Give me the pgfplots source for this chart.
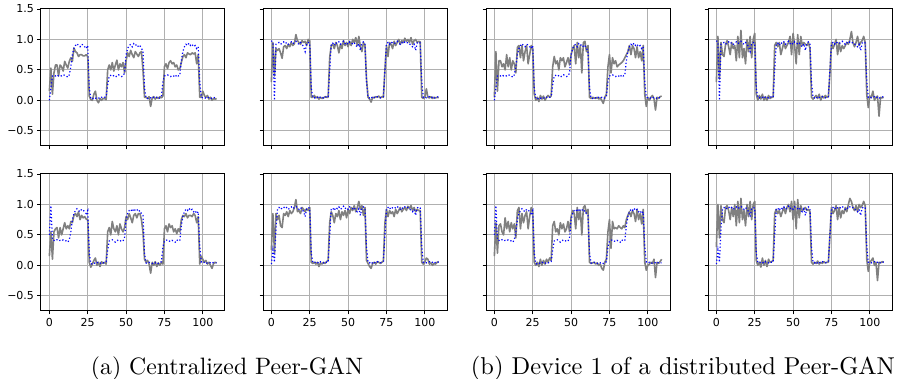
\documentclass[border=0pt]{standalone}
\usepackage{graphicx}
\usepackage{fontspec}
\usepackage{pgfplots}
\usepackage{pgfplotstable}
\pgfplotsset{compat=1.18}
\newfontfamily\tickfont{DejaVu Sans}
\definecolor{gridgray}{RGB}{176,176,176}
\definecolor{genGray}{RGB}{128,128,128}

% real signals
\pgfplotstableread[header=false,row sep=\\]{
0.00\\0.20\\0.40\\0.41\\0.40\\0.42\\0.40\\0.41\\0.40\\0.42\\
0.41\\0.40\\0.38\\0.42\\0.55\\0.75\\0.85\\0.90\\0.93\\0.90\\
0.88\\0.92\\0.91\\0.88\\0.85\\0.90\\0.20\\0.03\\0.02\\0.04\\
0.03\\0.05\\0.04\\0.03\\0.05\\0.04\\0.05\\0.06\\0.25\\0.40\\
0.41\\0.42\\0.40\\0.38\\0.40\\0.42\\0.41\\0.39\\0.40\\0.45\\
0.75\\0.85\\0.90\\0.92\\0.88\\0.93\\0.90\\0.92\\0.88\\0.90\\
0.85\\0.82\\0.20\\0.04\\0.03\\0.05\\0.04\\0.03\\0.05\\0.04\\
0.05\\0.03\\0.04\\0.06\\0.30\\0.40\\0.41\\0.42\\0.40\\0.39\\
0.41\\0.40\\0.38\\0.42\\0.40\\0.41\\0.65\\0.80\\0.88\\0.92\\
0.90\\0.94\\0.90\\0.92\\0.88\\0.90\\0.85\\0.88\\0.30\\0.05\\
0.04\\0.05\\0.03\\0.04\\0.05\\0.04\\0.03\\0.05\\0.04\\0.04\\
}\rAa
\pgfplotstableread[header=false,row sep=\\]{
0.50\\0.98\\0.42\\0.41\\0.40\\0.42\\0.40\\0.41\\0.40\\0.42\\
0.41\\0.40\\0.38\\0.42\\0.55\\0.75\\0.85\\0.90\\0.93\\0.90\\
0.88\\0.92\\0.91\\0.88\\0.85\\0.90\\0.20\\0.03\\0.02\\0.04\\
0.03\\0.05\\0.04\\0.03\\0.05\\0.04\\0.05\\0.06\\0.25\\0.40\\
0.41\\0.42\\0.40\\0.38\\0.40\\0.42\\0.41\\0.39\\0.40\\0.45\\
0.75\\0.85\\0.90\\0.92\\0.88\\0.93\\0.90\\0.92\\0.88\\0.90\\
0.85\\0.82\\0.20\\0.04\\0.03\\0.05\\0.04\\0.03\\0.05\\0.04\\
0.05\\0.03\\0.04\\0.06\\0.30\\0.40\\0.41\\0.42\\0.40\\0.39\\
0.41\\0.40\\0.38\\0.42\\0.40\\0.41\\0.65\\0.80\\0.88\\0.92\\
0.90\\0.94\\0.90\\0.92\\0.88\\0.90\\0.85\\0.88\\0.30\\0.05\\
0.04\\0.05\\0.03\\0.04\\0.05\\0.04\\0.03\\0.05\\0.04\\0.04\\
}\rAb
\pgfplotstableread[header=false,row sep=\\]{
0.98\\0.95\\0.00\\0.92\\0.93\\0.95\\0.92\\0.94\\0.96\\0.93\\
0.95\\0.92\\0.94\\0.96\\0.93\\0.95\\0.97\\0.94\\0.92\\0.95\\
0.92\\0.88\\0.80\\0.93\\0.95\\0.94\\0.20\\0.05\\0.04\\0.06\\
0.05\\0.03\\0.06\\0.05\\0.04\\0.06\\0.05\\0.05\\0.50\\0.92\\
0.94\\0.90\\0.95\\0.93\\0.96\\0.92\\0.94\\0.97\\0.93\\0.95\\
0.92\\0.96\\0.94\\0.93\\0.95\\0.90\\0.88\\0.93\\0.82\\0.94\\
0.96\\0.93\\0.30\\0.05\\0.04\\0.06\\0.03\\0.05\\0.04\\0.06\\
0.05\\0.04\\0.05\\0.06\\0.50\\0.93\\0.95\\0.92\\0.96\\0.94\\
0.93\\0.95\\0.97\\0.94\\0.92\\0.95\\0.93\\0.96\\0.94\\0.95\\
0.93\\0.90\\0.88\\0.92\\0.82\\0.94\\0.96\\0.94\\0.30\\0.05\\
0.06\\0.04\\0.05\\0.06\\0.04\\0.05\\0.03\\0.05\\0.06\\0.05\\
}\rBa
\pgfplotstableread[header=false,row sep=\\]{
0.02\\0.25\\0.05\\0.60\\0.93\\0.95\\0.92\\0.94\\0.96\\0.93\\
0.95\\0.92\\0.94\\0.96\\0.93\\0.95\\0.97\\0.94\\0.92\\0.95\\
0.92\\0.88\\0.80\\0.93\\0.95\\0.94\\0.20\\0.05\\0.04\\0.06\\
0.05\\0.03\\0.06\\0.05\\0.04\\0.06\\0.05\\0.05\\0.50\\0.92\\
0.94\\0.90\\0.95\\0.93\\0.96\\0.92\\0.94\\0.97\\0.93\\0.95\\
0.92\\0.96\\0.94\\0.93\\0.95\\0.90\\0.88\\0.93\\0.82\\0.94\\
0.96\\0.93\\0.30\\0.05\\0.04\\0.06\\0.03\\0.05\\0.04\\0.06\\
0.05\\0.04\\0.05\\0.06\\0.50\\0.93\\0.95\\0.92\\0.96\\0.94\\
0.93\\0.95\\0.97\\0.94\\0.92\\0.95\\0.93\\0.96\\0.94\\0.95\\
0.93\\0.90\\0.88\\0.92\\0.82\\0.94\\0.96\\0.94\\0.30\\0.05\\
0.06\\0.04\\0.05\\0.06\\0.04\\0.05\\0.03\\0.05\\0.06\\0.05\\
}\rBb

% generated signals
\pgfplotstableread[header=false,row sep=\\]{
0.15\\0.53\\0.10\\0.45\\0.58\\0.58\\0.40\\0.58\\0.55\\0.48\\
0.64\\0.58\\0.53\\0.64\\0.70\\0.64\\0.86\\0.80\\0.78\\0.72\\
0.75\\0.75\\0.73\\0.73\\0.75\\0.72\\0.07\\0.01\\0.00\\0.10\\
0.15\\0.00\\-0.04\\0.03\\0.00\\0.03\\0.03\\0.01\\0.50\\0.58\\
0.50\\0.62\\0.48\\0.58\\0.66\\0.50\\0.60\\0.55\\0.62\\0.45\\
0.65\\0.78\\0.72\\0.82\\0.75\\0.70\\0.80\\0.76\\0.72\\0.78\\
0.80\\0.50\\0.05\\0.05\\0.03\\0.06\\-0.10\\0.04\\0.06\\0.02\\
0.05\\0.03\\0.06\\0.04\\0.07\\0.55\\0.60\\0.52\\0.62\\0.65\\
0.60\\0.62\\0.55\\0.58\\0.50\\0.52\\0.62\\0.72\\0.75\\0.70\\
0.78\\0.76\\0.75\\0.78\\0.76\\0.78\\0.60\\0.75\\0.05\\0.05\\
0.15\\0.08\\0.05\\0.08\\0.02\\0.05\\0.00\\0.03\\0.02\\0.03\\
}\gAa
\pgfplotstableread[header=false,row sep=\\]{
0.30\\0.95\\0.40\\0.85\\0.82\\0.85\\0.78\\0.69\\0.88\\0.90\\
0.85\\0.92\\0.88\\0.95\\0.90\\0.93\\1.08\\0.98\\0.95\\0.92\\
0.98\\0.95\\0.97\\0.90\\1.00\\0.98\\0.05\\0.05\\0.08\\0.04\\
0.06\\0.02\\0.05\\0.03\\0.04\\0.06\\0.05\\0.05\\0.70\\0.90\\
0.92\\0.85\\0.95\\0.90\\0.78\\0.92\\0.85\\0.98\\0.90\\0.95\\
0.88\\0.97\\0.90\\1.00\\0.95\\1.03\\0.90\\1.05\\0.88\\0.80\\
0.95\\0.90\\0.35\\0.05\\0.02\\-0.03\\0.05\\0.04\\0.06\\0.05\\
0.07\\0.04\\0.06\\0.05\\0.50\\0.90\\0.72\\0.95\\0.92\\0.85\\
0.97\\0.90\\0.95\\1.00\\0.92\\0.98\\0.95\\1.02\\0.97\\1.00\\
0.95\\1.03\\0.92\\0.98\\1.00\\0.95\\0.97\\0.96\\0.05\\0.03\\
0.05\\0.19\\0.05\\0.04\\0.06\\0.03\\0.05\\0.04\\0.05\\0.04\\
}\gAb
\pgfplotstableread[header=false,row sep=\\]{
0.05\\0.80\\0.15\\0.65\\0.65\\0.55\\0.60\\0.50\\0.75\\0.55\\
0.70\\0.50\\0.65\\0.60\\0.45\\0.87\\0.90\\0.70\\0.90\\0.65\\
0.80\\0.90\\0.60\\0.75\\0.90\\0.85\\0.10\\0.00\\0.05\\-0.02\\
0.08\\0.02\\0.07\\0.00\\0.05\\0.08\\0.05\\0.07\\0.55\\0.72\\
0.60\\0.65\\0.50\\0.70\\0.65\\0.70\\0.55\\0.62\\0.70\\0.58\\
0.75\\0.85\\0.90\\0.60\\0.95\\0.70\\0.90\\0.45\\0.95\\0.97\\
0.80\\0.90\\0.05\\0.03\\0.05\\0.04\\0.03\\0.05\\0.02\\0.04\\
0.00\\-0.05\\0.05\\0.10\\0.55\\0.75\\0.45\\0.70\\0.60\\0.65\\
0.55\\0.58\\0.60\\0.62\\0.65\\0.70\\0.75\\0.80\\0.90\\0.75\\
0.90\\0.85\\0.70\\0.88\\0.70\\0.80\\0.65\\0.90\\0.10\\-0.10\\
0.05\\0.00\\0.05\\0.08\\0.03\\-0.16\\0.05\\0.03\\0.06\\0.07\\
}\gAc
\pgfplotstableread[header=false,row sep=\\]{
0.30\\1.05\\0.35\\0.95\\0.75\\0.72\\0.92\\0.98\\0.88\\0.75\\
0.95\\0.85\\0.90\\0.65\\1.05\\0.70\\1.15\\0.70\\0.85\\0.60\\
1.00\\0.80\\1.05\\0.70\\1.00\\1.10\\0.10\\0.00\\0.08\\0.02\\
0.10\\0.00\\0.06\\0.00\\0.08\\0.03\\0.05\\0.05\\0.90\\0.95\\
0.88\\0.95\\0.75\\0.85\\0.95\\0.85\\0.90\\0.95\\1.05\\0.75\\
1.10\\0.90\\0.60\\1.08\\0.75\\1.05\\0.90\\0.95\\0.92\\0.90\\
0.95\\0.85\\0.05\\0.02\\0.05\\0.08\\0.03\\0.10\\0.00\\0.07\\
0.04\\0.08\\0.05\\0.06\\0.45\\0.95\\0.85\\0.92\\1.00\\0.75\\
0.95\\0.80\\0.90\\0.85\\0.90\\0.95\\0.92\\1.00\\1.13\\0.95\\
0.88\\0.95\\1.05\\0.90\\0.95\\0.98\\1.05\\0.95\\0.10\\-0.12\\
0.07\\0.05\\0.15\\0.00\\0.05\\0.07\\-0.26\\0.05\\0.04\\0.05\\
}\gAd
\pgfplotstableread[header=false,row sep=\\]{
0.15\\0.55\\0.10\\0.55\\0.60\\0.62\\0.45\\0.62\\0.50\\0.60\\
0.70\\0.60\\0.65\\0.60\\0.72\\0.70\\0.82\\0.85\\0.80\\0.88\\
0.75\\0.82\\0.78\\0.80\\0.76\\0.75\\0.05\\-0.03\\0.02\\0.08\\
0.12\\0.00\\0.05\\-0.02\\0.06\\0.03\\0.05\\0.02\\0.55\\0.62\\
0.50\\0.72\\0.60\\0.55\\0.65\\0.50\\0.68\\0.60\\0.55\\0.62\\
0.80\\0.75\\0.85\\0.78\\0.70\\0.82\\0.85\\0.78\\0.85\\0.85\\
0.75\\0.55\\0.10\\0.05\\0.08\\0.02\\-0.13\\0.05\\0.00\\0.06\\
-0.02\\0.04\\0.00\\0.05\\0.02\\0.60\\0.65\\0.55\\0.68\\0.62\\
0.65\\0.55\\0.60\\0.52\\0.60\\0.55\\0.75\\0.82\\0.80\\0.85\\
0.78\\0.82\\0.82\\0.80\\0.85\\0.82\\0.70\\0.80\\0.02\\0.15\\
0.10\\0.05\\0.08\\0.02\\0.05\\0.00\\-0.05\\0.03\\0.05\\0.04\\
}\gBa
\pgfplotstableread[header=false,row sep=\\]{
0.25\\0.85\\0.20\\0.85\\0.75\\0.82\\0.65\\0.62\\0.85\\0.82\\
0.88\\0.80\\0.90\\0.85\\0.88\\0.95\\1.08\\0.88\\0.90\\0.85\\
0.95\\0.92\\0.88\\0.93\\0.90\\0.95\\0.05\\0.03\\0.05\\0.02\\
0.05\\-0.02\\0.04\\0.02\\0.05\\0.03\\0.06\\0.08\\0.70\\0.88\\
0.82\\0.70\\0.85\\0.80\\0.90\\0.75\\0.88\\0.82\\0.90\\0.78\\
0.92\\0.85\\0.95\\0.90\\0.98\\0.88\\0.95\\1.05\\0.92\\0.98\\
0.82\\0.95\\0.08\\0.03\\-0.02\\-0.05\\0.03\\0.05\\0.02\\0.06\\
0.05\\0.03\\0.05\\0.07\\0.70\\0.92\\0.80\\0.90\\0.85\\0.88\\
0.80\\0.92\\0.85\\0.90\\0.95\\0.88\\0.92\\0.95\\0.90\\0.97\\
0.93\\0.98\\0.90\\0.95\\0.88\\0.92\\0.90\\0.90\\0.05\\0.02\\
0.05\\0.12\\0.10\\0.02\\0.04\\0.00\\0.03\\0.02\\0.05\\0.06\\
}\gBb
\pgfplotstableread[header=false,row sep=\\]{
0.15\\0.70\\0.20\\0.65\\0.68\\0.55\\0.50\\0.78\\0.60\\0.72\\
0.55\\0.70\\0.60\\0.68\\0.45\\0.90\\0.95\\0.60\\0.85\\0.70\\
0.82\\0.88\\0.60\\0.80\\0.95\\0.88\\0.05\\0.00\\0.05\\-0.02\\
0.10\\0.00\\0.08\\0.02\\0.10\\0.05\\0.12\\0.08\\0.65\\0.72\\
0.55\\0.60\\0.50\\0.70\\0.60\\0.68\\0.55\\0.60\\0.72\\0.55\\
0.80\\0.90\\0.85\\0.60\\0.95\\0.75\\0.90\\0.50\\0.95\\0.98\\
0.85\\0.92\\0.05\\0.03\\0.04\\0.05\\0.02\\0.04\\0.00\\0.02\\
-0.05\\-0.08\\0.05\\0.10\\0.55\\0.75\\0.28\\0.72\\0.60\\0.62\\
0.60\\0.65\\0.62\\0.60\\0.65\\0.62\\0.75\\0.82\\0.88\\0.80\\
0.90\\0.85\\0.72\\0.92\\0.75\\0.85\\0.68\\0.92\\0.05\\-0.08\\
0.00\\0.02\\0.05\\0.03\\0.10\\-0.20\\0.05\\0.03\\0.06\\0.10\\
}\gBc
\pgfplotstableread[header=false,row sep=\\]{
0.30\\1.00\\0.45\\0.98\\0.75\\0.70\\0.95\\0.98\\0.90\\0.75\\
0.95\\0.80\\1.00\\0.65\\1.05\\0.70\\1.10\\0.75\\0.90\\0.65\\
1.00\\0.80\\1.05\\0.75\\1.00\\1.05\\0.08\\0.00\\0.05\\-0.03\\
0.12\\0.00\\0.08\\-0.02\\0.10\\0.05\\0.06\\0.08\\0.85\\0.92\\
0.85\\0.90\\0.80\\0.88\\0.95\\0.85\\0.95\\1.00\\0.88\\1.05\\
0.75\\1.05\\0.60\\1.08\\0.78\\0.98\\0.90\\0.92\\0.95\\0.90\\
0.92\\0.88\\0.05\\0.02\\0.05\\0.03\\0.07\\0.02\\0.05\\0.03\\
0.06\\0.04\\0.05\\0.05\\0.50\\0.95\\0.85\\0.90\\0.98\\0.75\\
0.95\\0.78\\0.90\\0.85\\0.95\\0.88\\1.00\\1.10\\1.05\\0.95\\
0.90\\0.98\\0.88\\1.00\\0.95\\0.98\\1.05\\0.98\\0.10\\-0.10\\
0.05\\0.08\\0.12\\0.00\\0.05\\-0.25\\0.05\\0.04\\0.06\\0.05\\
}\gBd

\pgfplotsset{
  sub/.style={
    scale only axis, width=184pt, height=137pt,
    anchor=south west,
    xmin=-5.45, xmax=114.45, ymin=-0.75, ymax=1.5,
    xtick={0,25,50,75,100}, ytick={-0.5,0,0.5,1,1.5},
    xticklabels={}, yticklabels={},
    grid=major,
    grid style={line width=1pt, color=gridgray},
    axis line style={line width=1pt, black},
    tick align=outside, tick pos=left,
    major tick length=3.5pt,
    tick style={black, line width=0.9pt},
    tick label style={font=\tickfont\fontsize{11}{13}\selectfont, text=black},
  },
  xlab/.style={xticklabels={0,25,50,75,100}},
  ylab/.style={yticklabels={−0.5,0.0,0.5,1.0,1.5}},
  gen/.style={color=genGray, line width=1.6pt, mark=none, line join=round},
  real/.style={color=blue, line width=1.2pt, dash pattern=on 1.2pt off 2.2pt, mark=none},
}

\begin{document}
\begin{tikzpicture}
\useasboundingbox (0pt,0pt) rectangle (898pt,379pt);
% row 1
\begin{axis}[sub, ylab, at={(41pt,233pt)}]
\addplot[gen] table[x expr=\coordindex, y index=0] {\gAa};
\addplot[real] table[x expr=\coordindex, y index=0] {\rAa};
\end{axis}
\begin{axis}[sub, at={(263pt,233pt)}]
\addplot[gen] table[x expr=\coordindex, y index=0] {\gAb};
\addplot[real] table[x expr=\coordindex, y index=0] {\rBa};
\end{axis}
\begin{axis}[sub, at={(486pt,233pt)}]
\addplot[gen] table[x expr=\coordindex, y index=0] {\gAc};
\addplot[real] table[x expr=\coordindex, y index=0] {\rAa};
\end{axis}
\begin{axis}[sub, at={(708pt,233pt)}]
\addplot[gen] table[x expr=\coordindex, y index=0] {\gAd};
\addplot[real] table[x expr=\coordindex, y index=0] {\rBa};
\end{axis}
% row 2
\begin{axis}[sub, xlab, ylab, at={(41pt,68pt)}]
\addplot[gen] table[x expr=\coordindex, y index=0] {\gBa};
\addplot[real] table[x expr=\coordindex, y index=0] {\rAb};
\end{axis}
\begin{axis}[sub, xlab, at={(263pt,68pt)}]
\addplot[gen] table[x expr=\coordindex, y index=0] {\gBb};
\addplot[real] table[x expr=\coordindex, y index=0] {\rBb};
\end{axis}
\begin{axis}[sub, xlab, at={(486pt,68pt)}]
\addplot[gen] table[x expr=\coordindex, y index=0] {\gBc};
\addplot[real] table[x expr=\coordindex, y index=0] {\rAb};
\end{axis}
\begin{axis}[sub, xlab, at={(708pt,68pt)}]
\addplot[gen] table[x expr=\coordindex, y index=0] {\gBd};
\addplot[real] table[x expr=\coordindex, y index=0] {\rBb};
\end{axis}
% captions
\node[anchor=base, inner sep=0pt] at (227pt,4pt) {\resizebox{272pt}{!}{(a) Centralized Peer-GAN}};
\node[anchor=base, inner sep=0pt] at (683pt,4pt) {\resizebox{424pt}{!}{(b) Device 1 of a distributed Peer-GAN}};
\end{tikzpicture}
\end{document}
